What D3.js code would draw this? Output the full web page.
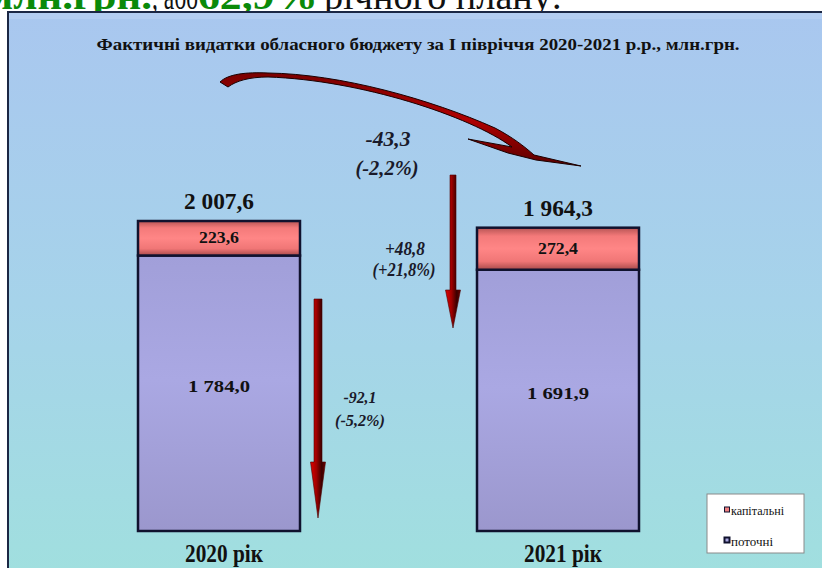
<!DOCTYPE html>
<html><head><meta charset="utf-8">
<script src="https://cdn.jsdelivr.net/npm/d3@7"></script>
<style>html,body{margin:0;padding:0;background:#fff;}svg{display:block;}
svg text{font-family:'Liberation Serif','Times New Roman',Times,'DejaVu Serif',serif;}</style>
</head><body>
<script>
// ---- data ----
const categories = ['2020 рік', '2021 рік'];
const currentExp = [1784.0, 1691.9];   // поточні
const capitalExp = [223.6, 272.4];     // капітальні
const totals = [2007.6, 1964.3];
const changeTotal = ['-43,3', '(-2,2%)'];
const changeCapital = ['+48,8', '(+21,8%)'];
const changeCurrent = ['-92,1', '(-5,2%)'];
const legendLabels = ['капітальні', 'поточні'];
const titleText = 'Фактичні видатки обласного бюджету за І півріччя 2020-2021 р.р., млн.грн.';
const headerParts = ['млн.грн.', ', або ', '62,9%', ' річного плану:'];

// ---- setup ----
const W = 822, H = 568;
const svg = d3.select('body').append('svg').attr('width', W).attr('height', H);
const defs = svg.append('defs');
const fmt = d3.formatLocale({decimal: ',', thousands: ' ', grouping: [3], currency: ['', '']}).format(',.1f');

function grad(id, stops, vertical) {
  const g = defs.append('linearGradient').attr('id', id)
    .attr('x1', 0).attr('y1', 0).attr('x2', vertical ? 0 : 1).attr('y2', vertical ? 1 : 0);
  stops.forEach(s => g.append('stop').attr('offset', s[0]).attr('stop-color', s[1]));
}
grad('bg', [[0, '#a9c7ef'], [0.5, '#a6d3ea'], [1, '#a0e0de']], true);
grad('blue', [[0, '#a19fd9'], [0.45, '#aaa8e3'], [1, '#9b97cd']], true);
grad('red', [[0, '#b65454'], [0.2, '#f47a7a'], [0.5, '#ff8686'], [0.8, '#f07676'], [1, '#a84a4a']], true);
grad('arrowG', [[0, '#e00000'], [0.4, '#a00000'], [0.75, '#3a0000'], [1, '#700000']], false);
grad('curveG', [[0, '#7a0000'], [0.5, '#b00000'], [1, '#5a0000']], true);

function txt(g, o) {
  const t = g.append('text').attr('x', o.x).attr('y', o.y).text(o.text)
    .attr('font-size', o.size)
    .attr('font-weight', o.weight || 'bold').attr('font-style', o.style || 'normal')
    .attr('text-anchor', o.anchor || 'middle').attr('fill', o.fill || '#111');
  if (o.len) t.attr('textLength', o.len).attr('lengthAdjust', 'spacingAndGlyphs');
  return t;
}

// ---- header line (clipped text above the panel) ----
const hdr = svg.append('g');
txt(hdr, {x: 152, y: 9, text: headerParts[0], size: 38, anchor: 'end', fill: '#0a8a0a', len: 168});
txt(hdr, {x: 152, y: 9, text: headerParts[1], size: 38, weight: 'normal', anchor: 'start', len: 46});
txt(hdr, {x: 198, y: 9, text: headerParts[2], size: 38, anchor: 'start', fill: '#0a8a0a', len: 120});
txt(hdr, {x: 324, y: 9, text: headerParts[3], size: 38, weight: 'normal', anchor: 'start', len: 238});

// ---- panel ----
svg.append('rect').attr('x', 8).attr('y', 12).attr('width', 840).attr('height', 580)
  .attr('fill', 'url(#bg)').attr('stroke', '#1b2744').attr('stroke-width', 2);
svg.append('rect').attr('x', 9).attr('y', 13).attr('width', 830).attr('height', 6)
  .attr('fill', '#ffffff').attr('opacity', 0.12);

txt(svg, {x: 418, y: 50, text: titleText, size: 17, len: 643});

// ---- scales ----
const x = d3.scalePoint().domain(categories).range([219, 558]);
const y = d3.scaleLinear().domain([0, d3.max(totals)]).range([531, 221]);
const barW = 162;

const rows = categories.map((c, i) => ({cat: c, cur: currentExp[i], cap: capitalExp[i], tot: totals[i]}));

const bars = svg.append('g');
bars.selectAll('.cur').data(rows).join('rect')
  .attr('x', d => x(d.cat) - barW / 2).attr('width', barW)
  .attr('y', d => y(d.cur)).attr('height', d => y(0) - y(d.cur))
  .attr('fill', 'url(#blue)').attr('stroke', '#10122e').attr('stroke-width', 2.5);
bars.selectAll('.cap').data(rows).join('rect')
  .attr('x', d => x(d.cat) - barW / 2).attr('width', barW)
  .attr('y', d => y(d.cur + d.cap)).attr('height', d => y(d.cur) - y(d.cur + d.cap))
  .attr('fill', 'url(#red)').attr('stroke', '#10122e').attr('stroke-width', 2.5);

rows.forEach(d => {
  const cx = x(d.cat);
  txt(svg, {x: cx, y: y(d.tot) - 12, text: fmt(d.tot), size: 24, len: 70});
  txt(svg, {x: cx, y: (y(d.cur) + y(d.cur + d.cap)) / 2 + 5, text: fmt(d.cap), size: 17, len: 40});
  txt(svg, {x: cx, y: (y(0) + y(d.cur)) / 2 - 1, text: fmt(d.cur), size: 17, len: 62});
  txt(svg, {x: cx + 5, y: 562, text: d.cat, size: 26, len: 78});
});

// ---- arrows ----
function vArrow(xc, top, headStart, tip, sw, hw) {
  const p = d3.path();
  p.moveTo(xc - sw / 2, top); p.lineTo(xc + sw / 2, top);
  p.lineTo(xc + sw / 2, headStart); p.lineTo(xc + hw / 2, headStart);
  p.lineTo(xc, tip); p.lineTo(xc - hw / 2, headStart);
  p.lineTo(xc - sw / 2, headStart); p.closePath();
  svg.append('path').attr('d', p.toString()).attr('fill', 'url(#arrowG)')
    .attr('stroke', '#4a0000').attr('stroke-width', 0.6);
}
vArrow(453, 175, 290, 328, 6, 15);
vArrow(318, 299, 462, 518, 8, 15);

// curved swoosh arrow (total change)
svg.append('path')
  .attr('d', 'M220,82 C228,74 246,72 268,73 C340,74 430,99 495,128 C512,137 524,146 534,155 L581,166 L536,160 L508,153 L468,139 L512,147 C470,116 360,80 268,77 C249,77 236,81 228,87 Z')
  .attr('fill', 'url(#curveG)').attr('stroke', '#1a0000').attr('stroke-width', 1);

// ---- change annotations ----
const ann = svg.append('g');
txt(ann, {x: 388, y: 146, text: changeTotal[0], size: 22, style: 'italic', fill: '#1a1a2a', len: 45});
txt(ann, {x: 387, y: 175, text: changeTotal[1], size: 22, style: 'italic', fill: '#1a1a2a', len: 63});
txt(ann, {x: 405, y: 255, text: changeCapital[0], size: 18, style: 'italic', fill: '#1a1a2a', len: 40});
txt(ann, {x: 404, y: 276, text: changeCapital[1], size: 18, style: 'italic', fill: '#1a1a2a', len: 63});
txt(ann, {x: 360, y: 403, text: changeCurrent[0], size: 17, style: 'italic', fill: '#1a1a2a', len: 33});
txt(ann, {x: 360, y: 426, text: changeCurrent[1], size: 17, style: 'italic', fill: '#1a1a2a', len: 50});

// ---- legend ----
const lg = svg.append('g');
lg.append('rect').attr('x', 707).attr('y', 494).attr('width', 97).attr('height', 59)
  .attr('fill', '#fff').attr('stroke', '#8a8a8a').attr('stroke-width', 1);
const legFills = ['#f08080', '#a8a6e0'];
const legW = [53, 42];
legendLabels.forEach((l, i) => {
  const yy = 507 + i * 30.5;
  lg.append('rect').attr('x', 724.5).attr('y', yy).attr('width', 5).attr('height', 5)
    .attr('fill', legFills[i]).attr('stroke', '#10122e').attr('stroke-width', i ? 2 : 1);
  txt(lg, {x: 731, y: yy + 8, text: l, size: 13, weight: 'normal', anchor: 'start', len: legW[i]});
});
</script>
</body></html>
